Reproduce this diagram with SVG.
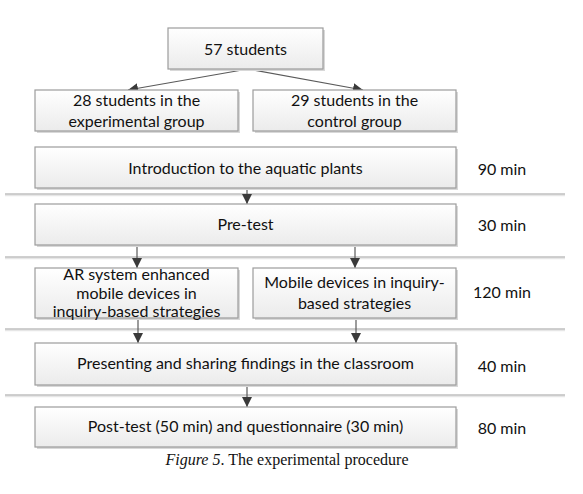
<svg xmlns="http://www.w3.org/2000/svg" width="583" height="494" viewBox="0 0 583 494">
<style>
.box{fill:url(#g);stroke:#9c9c9c;stroke-width:1.2}
.sh{fill:#d8d8d8}
.t{font-family:Lato,"Open Sans","Liberation Sans",sans-serif;font-size:16px;fill:#111;text-anchor:middle}
.sep{stroke:#a0a0a0;stroke-width:1.2}
.sep2{stroke:#e6e6e6;stroke-width:1.5}
.c{stroke:#5a5a5a;stroke-width:1.2;fill:none;marker-end:url(#ah)}
.cap{font-family:"Liberation Serif","Times New Roman",serif;font-size:16px;fill:#111;text-anchor:middle}
</style>
<defs>
<linearGradient id="g" x1="0" y1="0" x2="0" y2="1">
<stop offset="0" stop-color="#ffffff"/>
<stop offset="1" stop-color="#ebebeb"/>
</linearGradient>
<marker id="ah" markerUnits="userSpaceOnUse" markerWidth="12" markerHeight="12" refX="10" refY="5" orient="auto">
<path d="M0,0 L10,5 L0,10 Z" fill="#3a3a3a"/>
</marker>
</defs>
<rect width="583" height="494" fill="#ffffff"/>
<g id="separators">
<line class="sep2" x1="5" y1="195.5" x2="565" y2="195.5"/>
<line class="sep" x1="5" y1="194" x2="565" y2="194"/>
<line class="sep2" x1="5" y1="258.5" x2="565" y2="258.5"/>
<line class="sep" x1="5" y1="257" x2="565" y2="257"/>
<line class="sep2" x1="5" y1="330.5" x2="565" y2="330.5"/>
<line class="sep" x1="5" y1="329" x2="565" y2="329"/>
<line class="sep2" x1="5" y1="396.5" x2="565" y2="396.5"/>
<line class="sep" x1="5" y1="395" x2="565" y2="395"/>
</g>
<g id="connectors">
<line class="c" x1="248" y1="69" x2="128" y2="90"/>
<line class="c" x1="248" y1="69" x2="363" y2="90"/>
<line class="c" x1="247" y1="188" x2="247" y2="204"/>
<line class="c" x1="137" y1="245" x2="137" y2="268"/>
<line class="c" x1="355" y1="245" x2="355" y2="268"/>
<line class="c" x1="138" y1="318" x2="138" y2="343"/>
<line class="c" x1="356" y1="318" x2="356" y2="343"/>
<line class="c" x1="247" y1="385" x2="247" y2="407"/>
</g>
<g id="n57">
<rect class="sh" x="170" y="30" width="155" height="41"/>
<rect class="box" x="168" y="28" width="155" height="41"/>
<text class="t" x="245.5" y="55">57 students</text>
</g>
<g id="exp">
<rect class="sh" x="37" y="92" width="203" height="41"/>
<rect class="box" x="35" y="90" width="203" height="41"/>
<text class="t" x="136.5" y="106">28 students in the</text>
<text class="t" x="136.5" y="127">experimental group</text>
</g>
<g id="ctl">
<rect class="sh" x="255" y="92" width="203" height="41"/>
<rect class="box" x="253" y="90" width="203" height="41"/>
<text class="t" x="354.5" y="106">29 students in the</text>
<text class="t" x="354.5" y="127">control group</text>
</g>
<g id="intro">
<rect class="sh" x="37" y="149" width="421" height="41"/>
<rect class="box" x="35" y="147" width="421" height="41"/>
<text class="t" x="245.5" y="174">Introduction to the aquatic plants</text>
<text class="t" x="502" y="175">90 min</text>
</g>
<g id="pretest">
<rect class="sh" x="37" y="206" width="421" height="41"/>
<rect class="box" x="35" y="204" width="421" height="41"/>
<text class="t" x="245.5" y="230">Pre-test</text>
<text class="t" x="502" y="231">30 min</text>
</g>
<g id="ar">
<rect class="sh" x="37" y="270" width="203" height="50"/>
<rect class="box" x="35" y="268" width="203" height="50"/>
<text class="t" x="136.5" y="280">AR system enhanced</text>
<text class="t" x="136.5" y="299">mobile devices in</text>
<text class="t" x="136.5" y="317">inquiry-based strategies</text>
</g>
<g id="mobile">
<rect class="sh" x="255" y="270" width="203" height="50"/>
<rect class="box" x="253" y="268" width="203" height="50"/>
<text class="t" x="354.5" y="288">Mobile devices in inquiry-</text>
<text class="t" x="354.5" y="309">based strategies</text>
<text class="t" x="502" y="298">120 min</text>
</g>
<g id="present">
<rect class="sh" x="37" y="345" width="421" height="42"/>
<rect class="box" x="35" y="343" width="421" height="42"/>
<text class="t" x="245.5" y="369">Presenting and sharing findings in the classroom</text>
<text class="t" x="502" y="372">40 min</text>
</g>
<g id="post">
<rect class="sh" x="37" y="409" width="421" height="40"/>
<rect class="box" x="35" y="407" width="421" height="40"/>
<text class="t" x="245.5" y="432">Post-test (50 min) and questionnaire (30 min)</text>
<text class="t" x="502" y="434">80 min</text>
</g>
<text class="cap" x="287" y="465"><tspan font-style="italic">Figure 5</tspan>. The experimental procedure</text>
</svg>
